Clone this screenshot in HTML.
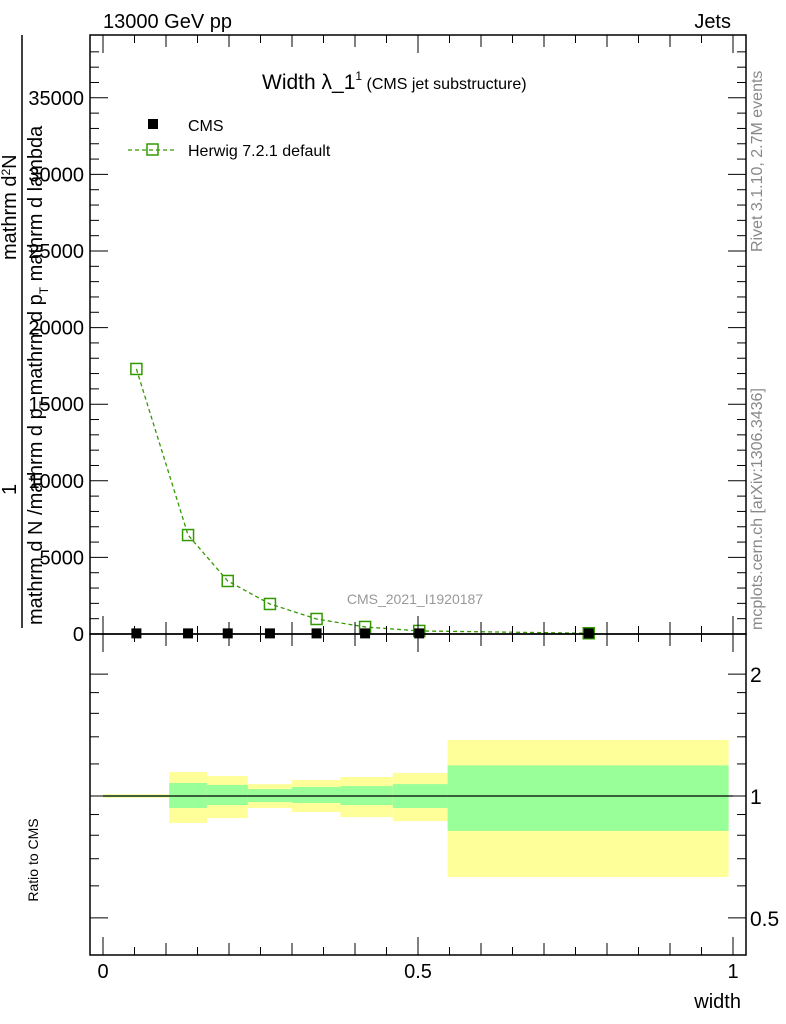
<!DOCTYPE html>
<html><head><meta charset="utf-8"><style>
html,body{margin:0;padding:0;background:#fff}
svg{display:block;font-family:"Liberation Sans",sans-serif}
</style></head><body>
<svg id="chart" width="786" height="1024" viewBox="0 0 786 1024">
<g id="bands"></g>
<g id="marks"></g>
<g id="axes"></g>
<text x="103" y="28" font-size="20">13000 GeV pp</text>
<text x="731" y="28" font-size="20" text-anchor="end">Jets</text>
<text x="262" y="89" font-size="21">Width λ_1<tspan font-size="12" dy="-9">1</tspan><tspan font-size="16" dy="9"> (CMS jet substructure)</tspan></text>
<rect x="148" y="119" width="10" height="10" fill="#000"/>
<text x="188" y="131" font-size="16">CMS</text>
<line x1="128" y1="150" x2="175" y2="150" stroke="#339900" stroke-width="1.3" stroke-dasharray="4,3"/>
<rect x="147" y="144" width="11" height="11" fill="none" stroke="#339900" stroke-width="1.5"/>
<text x="188" y="156" font-size="16">Herwig 7.2.1 default</text>
<text x="415" y="604" font-size="14" fill="#999" text-anchor="middle">CMS_2021_I1920187</text>
<text transform="translate(762,252) rotate(-90)" font-size="16" fill="#888">Rivet 3.1.10,  2.7M events</text>
<text transform="translate(762,630) rotate(-90)" font-size="16" fill="#888">mcplots.cern.ch [arXiv:1306.3436]</text>
<g font-size="20">
<line x1="22" y1="35" x2="22" y2="628" stroke="#000" stroke-width="1.5"/>
<text transform="translate(16,260) rotate(-90)">mathrm d<tspan font-size="12" dy="-6">2</tspan><tspan dy="6">N</tspan></text>
<text transform="translate(16,495) rotate(-90)">1</text>
<text transform="translate(42,625) rotate(-90)">mathrm d N /mathrm d p<tspan font-size="12" dy="6">T</tspan><tspan dy="-6"> mathrm d p</tspan><tspan font-size="12" dy="6">T</tspan><tspan dy="-6"> mathrm d lambda</tspan></text>
</g>
<text transform="translate(38,860) rotate(-90)" font-size="14" text-anchor="middle">Ratio to CMS</text>
<text x="741" y="1008" font-size="20" text-anchor="end">width</text>
</svg>
<script>
const binEdges=[0,0.105,0.165,0.23,0.3,0.377,0.46,0.547,0.993];
const binCenters=[0.053,0.135,0.198,0.265,0.339,0.416,0.502,0.771];
const herwigValues=[17300,6460,3460,1960,980,460,200,50];
const cmsValues=[40,40,40,40,40,40,40,40];
const yellowLow=[0.99,0.858,0.882,0.934,0.913,0.887,0.867,0.631];
const yellowHigh=[1.01,1.146,1.12,1.07,1.095,1.114,1.14,1.375];
const greenLow=[0.995,0.934,0.95,0.966,0.961,0.95,0.934,0.82];
const greenHigh=[1.005,1.077,1.065,1.04,1.052,1.058,1.07,1.19];
const yTicks=[0,5000,10000,15000,20000,25000,30000,35000];
const xTickLabels=["0","0.5","1"];
const rTicks=[0.5,1,2];

const NS="http://www.w3.org/2000/svg";
const L=90,R=746,T=35,M=634,B=955;
const X=v=>103+v*630;
const Y=v=>M-v/5000*76.6;
const RY=v=>796-Math.log10(v)*405;
function mk(tag,attrs,parent){const e=document.createElementNS(NS,tag);for(const k in attrs)e.setAttribute(k,attrs[k]);parent.appendChild(e);return e;}
const bands=document.getElementById('bands'),marks=document.getElementById('marks'),axes=document.getElementById('axes');
for(let i=0;i<binCenters.length;i++){
  const x1=X(binEdges[i]),x2=X(binEdges[i+1]);
  const yb=mk('rect',{x:x1,y:RY(yellowHigh[i]),width:x2-x1,height:RY(yellowLow[i])-RY(yellowHigh[i]),fill:'#ffff99'},bands);
  
  
  const gb=mk('rect',{x:x1,y:RY(greenHigh[i]),width:x2-x1,height:RY(greenLow[i])-RY(greenHigh[i]),fill:'#99ff99'},bands);
  
  
}
const rl=mk('line',{x1:X(0),x2:X(1),y1:RY(1),y2:RY(1),stroke:'#000','stroke-width':1.3},bands);


let d='';
herwigValues.forEach((v,i)=>{d+=(i?'L':'M')+X(binCenters[i])+','+Y(v);});
const hl=mk('path',{d:d,fill:'none',stroke:'#339900','stroke-width':1.3,'stroke-dasharray':'4,3'},marks);


herwigValues.forEach((v,i)=>{
  const c=mk('rect',{x:X(binCenters[i])-5.5,y:Y(v)-5.5,width:11,height:11,fill:'none',stroke:'#339900','stroke-width':1.5},marks);
  
  
});
cmsValues.forEach((v,i)=>{
  const c=mk('rect',{x:X(binCenters[i])-5,y:Y(v)-5,width:10,height:10,fill:'#000'},marks);
  
  
});
[[T,M],[M,B]].forEach(([a,b])=>{const f=mk('rect',{x:L,y:a,width:R-L,height:b-a,fill:'none',stroke:'#000','stroke-width':1.5},axes);});
for(let v=0;v<=38000;v+=1000){const y=Y(v);if(y<T)break;const len=v%5000==0?18:9;
  mk('line',{x1:L,x2:L+len,y1:y,y2:y,stroke:'#000'},axes);mk('line',{x1:R,x2:R-len,y1:y,y2:y,stroke:'#000'},axes);}
yTicks.forEach(v=>{const t=mk('text',{x:L-6,y:Y(v)+7,'font-size':20,'text-anchor':'end'},axes);t.textContent=v;});
for(let k=0;k<=20;k++){const v=k*0.05,x=X(v);const len=(k%10==0)?18:(k%2==0?12:8);
  mk('line',{x1:x,x2:x,y1:M,y2:M-len,stroke:'#000'},axes);mk('line',{x1:x,x2:x,y1:T,y2:T+len,stroke:'#000'},axes);
  mk('line',{x1:x,x2:x,y1:M,y2:M+len,stroke:'#000'},axes);mk('line',{x1:x,x2:x,y1:B,y2:B-len,stroke:'#000'},axes);}
xTickLabels.forEach(s=>{const t=mk('text',{x:X(parseFloat(s)),y:978,'font-size':20,'text-anchor':'middle'},axes);t.textContent=s;});
[0.4,0.5,0.6,0.7,0.8,0.9,1,1.2,1.4,1.6,1.8,2].forEach(v=>{const y=RY(v);if(y>B||y<M)return;const len=rTicks.includes(v)?18:9;
  mk('line',{x1:L,x2:L+len,y1:y,y2:y,stroke:'#000'},axes);mk('line',{x1:R,x2:R-len,y1:y,y2:y,stroke:'#000'},axes);});
rTicks.forEach(v=>{const t=mk('text',{x:R+4,y:RY(v)+8,'font-size':21},axes);t.textContent=v;});
</script>
</body></html>
